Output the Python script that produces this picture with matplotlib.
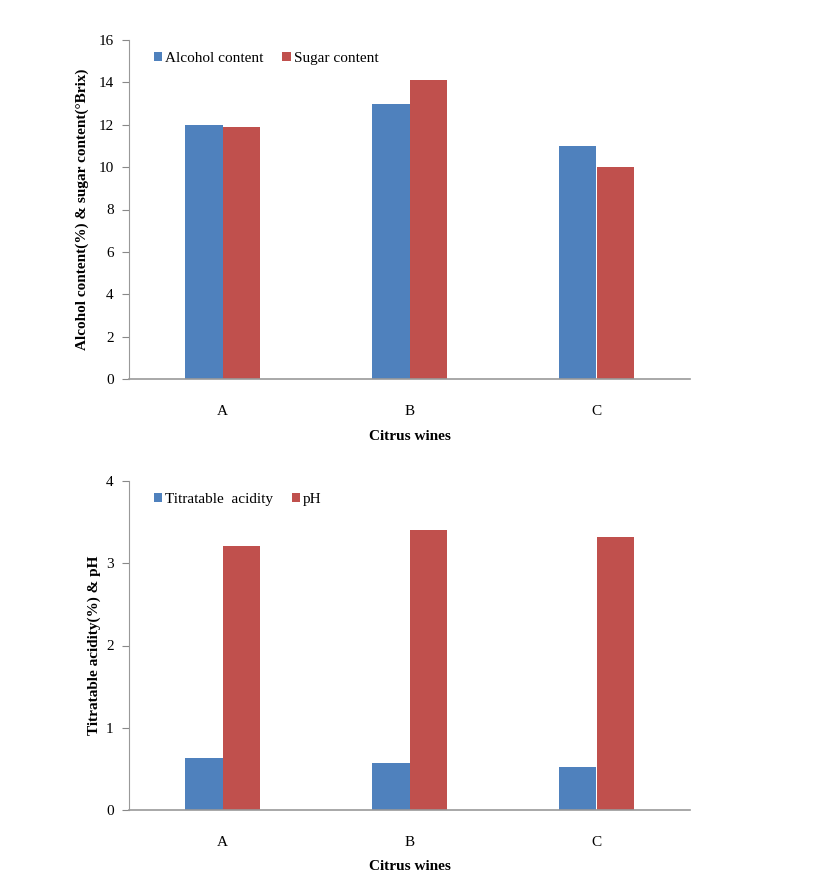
import numpy as np
import matplotlib.pyplot as plt

plt.rcParams["font.family"] = ["Liberation Serif", "DejaVu Serif"]

wines = ["A", "B", "C"]
alcohol = [12.0, 13.0, 11.0]
sugar = [11.9, 14.1, 10.0]
acidity = [0.63, 0.57, 0.52]
ph = [3.21, 3.41, 3.32]

BLUE = "#4F81BD"
RED = "#C0504D"


def draw_panel(ax, s1, s2, labels, ylim, step, ylabel, ylabelpad):
    x = np.arange(len(wines))
    w = 0.2
    ax.bar(x - w / 2, s1, w, color=BLUE, label=labels[0], zorder=2)
    ax.bar(x + w / 2, s2, w, color=RED, label=labels[1], zorder=2)
    ax.set_xlim(-0.5, len(wines) - 0.5)
    ax.set_ylim(0, ylim)
    ax.set_yticks(np.arange(0, ylim + step / 2, step))
    ax.set_xticks(x)
    ax.set_xticklabels(wines)
    ax.tick_params(axis="x", length=0, pad=19, labelsize=11)
    ax.tick_params(axis="y", length=5, width=0.8, color="#888888", pad=6, labelsize=11)
    ax.yaxis.set_major_formatter(plt.FormatStrFormatter("%g"))
    for s in ("top", "right"):
        ax.spines[s].set_visible(False)
    ax.spines["left"].set_color("#999999")
    ax.spines["bottom"].set_color("#999999")
    ax.spines["bottom"].set_linewidth(1.2)
    ax.set_xlabel("Citrus wines", fontweight="bold", fontsize=11, labelpad=8)
    ax.set_ylabel(ylabel, fontweight="bold", fontsize=11, labelpad=ylabelpad)
    ax.legend(loc="upper left", bbox_to_anchor=(0.02, 1.005), ncol=2, frameon=False,
              fontsize=11, handlelength=0.55, handleheight=0.55, handletextpad=0.2,
              columnspacing=1.2)


fig = plt.figure(figsize=(8.25, 8.92), dpi=100)
ax1 = fig.add_axes([129 / 825, 1 - 379 / 892, 561 / 825, 339 / 892])
ax2 = fig.add_axes([129 / 825, 1 - 810 / 892, 561 / 825, 329 / 892])

draw_panel(ax1, alcohol, sugar, ["Alcohol content", "Sugar content"], 16, 2,
           "Alcohol content(%) & sugar content(\u00b0Brix)", 7)
draw_panel(ax2, acidity, ph, ["Titratable  acidity", "pH"], 4, 1,
           "Titratable acidity(%) & pH", 4)

fig.savefig("out.png", dpi=100)
